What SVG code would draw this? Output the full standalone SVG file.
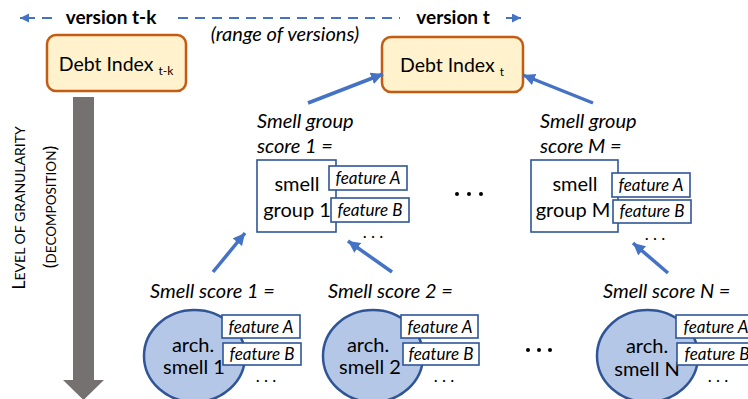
<svg xmlns="http://www.w3.org/2000/svg" width="748" height="399" viewBox="0 0 748 399">
<style>
text{font-family:Lato,"Liberation Sans",sans-serif;fill:#000}
.it{font-style:italic}
.debt{fill:#FFF2CC;stroke:#C55A11;stroke-width:2.5}
.box{fill:#fff;stroke:#2F5597;stroke-width:1.6}
.ell{fill:#B4C7E7;stroke:#2F5597;stroke-width:2.5}
.conn{stroke:#4472C4;stroke-width:3.5;fill:none}
.dash{stroke:#4472C4;stroke-width:2;fill:none}
.feat{font-size:17px;font-style:italic;text-anchor:middle}
.lbl{font-size:20px;font-style:italic}
.node{font-size:20px;text-anchor:middle}
.dots{font-size:17px;text-anchor:middle}
</style>
<defs>
<marker id="ah" markerUnits="userSpaceOnUse" markerWidth="14" markerHeight="14" refX="12" refY="6" orient="auto">
<path d="M0,0 L12,6 L0,12 z" fill="#4472C4"/>
</marker>
<marker id="sh" markerUnits="userSpaceOnUse" markerWidth="10" markerHeight="10" refX="9" refY="4.5" orient="auto">
<path d="M0,0 L9,4.5 L0,9 z" fill="#4472C4"/>
</marker>
</defs>

<g id="version-range">
<path class="dash" d="M35,18 H20" marker-end="url(#sh)"/>
<path class="dash" d="M42,18 H52"/>
<path class="dash" d="M178,18 H400" stroke-dasharray="10 7"/>
<path class="dash" d="M506,18 H521" marker-end="url(#sh)"/>
<text x="111" y="24" font-size="19" font-weight="bold" text-anchor="middle">version t-k</text>
<text x="453" y="24" font-size="19" font-weight="bold" text-anchor="middle">version t</text>
<text x="285" y="41" font-size="20" class="it" text-anchor="middle">(range of versions)</text>
</g>

<g id="granularity">
<polygon points="73,97 94,97 94,380 104,380 83.5,400 63,380 73,380" fill="#767171"/>
<text transform="translate(25,208) rotate(-90)" text-anchor="middle"><tspan font-size="18">L</tspan><tspan font-size="14">EVEL OF GRANULARITY</tspan></text>
<text transform="translate(56,207) rotate(-90)" text-anchor="middle"><tspan font-size="18">(</tspan><tspan font-size="13.5">DECOMPOSITION</tspan><tspan font-size="18">)</tspan></text>
</g>

<g id="debt-tk">
<rect class="debt" x="47" y="35" width="139" height="56" rx="9"/>
<text x="116" y="71" text-anchor="middle" font-size="19.5">Debt Index <tspan font-size="12" dy="4">t-k</tspan></text>
</g>

<g id="debt-t">
<rect class="debt" x="382" y="37" width="141" height="55" rx="9"/>
<text x="452" y="72" text-anchor="middle" font-size="19.5">Debt Index <tspan font-size="12" dy="4">t</tspan></text>
</g>

<g id="group-1">
<text class="lbl" x="257" y="128">Smell group</text>
<text class="lbl" x="257" y="153">score 1 =</text>
<rect class="box" x="257" y="160" width="79" height="72"/>
<text class="node" x="297" y="191">smell</text>
<text class="node" x="297" y="217">group 1</text>
<rect class="box" x="329" y="166" width="78" height="24"/>
<text class="feat" x="368" y="184">feature A</text>
<rect class="box" x="331" y="198" width="78" height="24"/>
<text class="feat" x="370" y="216">feature B</text>
<text class="dots" x="373" y="238">. . .</text>
</g>

<g id="group-dots">
<circle cx="457" cy="194" r="2"/>
<circle cx="469" cy="194" r="2"/>
<circle cx="481" cy="194" r="2"/>
</g>

<g id="group-M">
<text class="lbl" x="540" y="128">Smell group</text>
<text class="lbl" x="540" y="153">score M =</text>
<rect class="box" x="531" y="160" width="87" height="72"/>
<text class="node" x="575" y="191">smell</text>
<text class="node" x="573" y="217">group M</text>
<rect class="box" x="612" y="173" width="78" height="24"/>
<text class="feat" x="651" y="191">feature A</text>
<rect class="box" x="613" y="200" width="78" height="23"/>
<text class="feat" x="652" y="217">feature B</text>
<text class="dots" x="655" y="240">. . .</text>
</g>

<g id="smell-1">
<text class="lbl" x="150" y="298">Smell score 1 =</text>
<ellipse class="ell" cx="194.5" cy="356" rx="50.5" ry="46"/>
<text class="node" x="193" y="352">arch.</text>
<text class="node" x="194" y="374">smell 1</text>
<rect class="box" x="222" y="315" width="78" height="23"/>
<text class="feat" x="261" y="333">feature A</text>
<rect class="box" x="223" y="343" width="78" height="22"/>
<text class="feat" x="262" y="360">feature B</text>
<text class="dots" x="266" y="382">. . .</text>
</g>

<g id="smell-2">
<text class="lbl" x="328" y="298">Smell score 2 =</text>
<ellipse class="ell" cx="373" cy="356" rx="50" ry="46"/>
<text class="node" x="368" y="352">arch.</text>
<text class="node" x="370" y="374">smell 2</text>
<rect class="box" x="401" y="315" width="77" height="23"/>
<text class="feat" x="440" y="333">feature A</text>
<rect class="box" x="403" y="343" width="76" height="22"/>
<text class="feat" x="441" y="360">feature B</text>
<text class="dots" x="444" y="382">. . .</text>
</g>

<g id="smell-dots">
<circle cx="528" cy="350" r="2"/>
<circle cx="539" cy="350" r="2"/>
<circle cx="550" cy="350" r="2"/>
</g>

<g id="smell-N">
<text class="lbl" x="603" y="298">Smell score N =</text>
<ellipse class="ell" cx="647.5" cy="356" rx="50.5" ry="46"/>
<text class="node" x="647" y="353">arch.</text>
<text class="node" x="647" y="376">smell N</text>
<rect class="box" x="676" y="315" width="80" height="23"/>
<text class="feat" x="716" y="333">feature A</text>
<rect class="box" x="677" y="343" width="80" height="22"/>
<text class="feat" x="717" y="360">feature B</text>
<text class="dots" x="718" y="382">. . .</text>
</g>

<g id="connectors">
<line class="conn" x1="308" y1="103" x2="383" y2="74" marker-end="url(#ah)"/>
<line class="conn" x1="593" y1="103" x2="523" y2="75" marker-end="url(#ah)"/>
<line class="conn" x1="213" y1="272" x2="245" y2="233" marker-end="url(#ah)"/>
<line class="conn" x1="392" y1="272" x2="348" y2="241" marker-end="url(#ah)"/>
<line class="conn" x1="668" y1="273" x2="633" y2="243" marker-end="url(#ah)"/>
</g>
</svg>
